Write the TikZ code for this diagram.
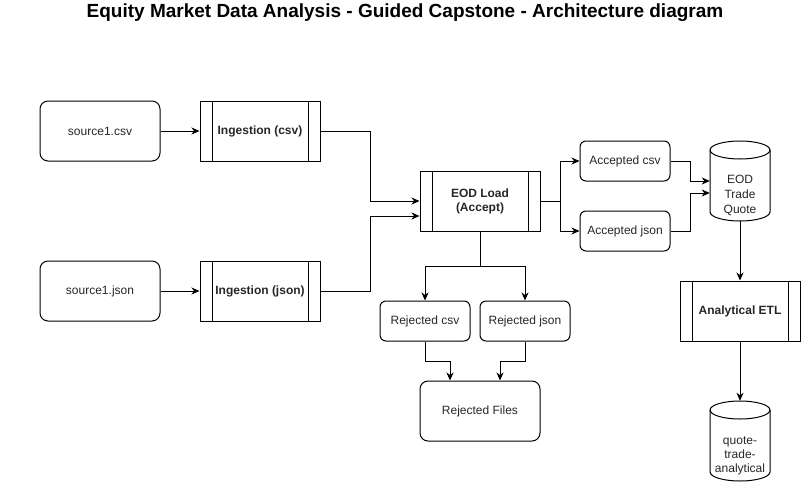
\documentclass[tikz,border=0pt]{standalone}
\usepackage{fontspec}
\setmainfont{Liberation Sans}
\usetikzlibrary{arrows.meta,calc}
\begin{document}
\begin{tikzpicture}[x=1pt,y=-1pt,
  every node/.style={font=\fontsize{12}{14}\selectfont, text=black!85, align=center, inner sep=0pt},
  rbox/.style={draw, line width=1pt, rounded corners=8pt, minimum width=#1, minimum height=60pt},
  sbox/.style={draw, line width=1pt, rounded corners=6pt, minimum width=90pt, minimum height=40pt},
  proc/.style={draw, line width=1pt, minimum width=120pt, minimum height=60pt, font=\fontsize{12}{14}\selectfont\bfseries,
    path picture={\draw[line width=1pt] ([xshift=12pt]path picture bounding box.north west) -- ([xshift=12pt]path picture bounding box.south west);
                  \draw[line width=1pt] ([xshift=-12pt]path picture bounding box.north east) -- ([xshift=-12pt]path picture bounding box.south east);}},
  cylspace/.style={minimum width=60pt, minimum height=80pt},
  arr/.style={line width=1pt, -{Stealth[length=8pt,width=7pt,inset=2.5pt]}},
  ln/.style={line width=1pt}
]
\useasboundingbox (0,0) rectangle (811,482);

\node[font=\fontsize{19}{22}\selectfont\bfseries, text=black] (title) at (405,13) {Equity Market Data Analysis - Guided Capstone - Architecture diagram};

\node[rbox=120pt] (s1) at (100,131) {source1.csv};
\node[rbox=120pt] (s2) at (100,291) {source1.json};
\node[proc] (ic) at (260,131) {Ingestion (csv)};
\node[proc] (ij) at (260,291) {Ingestion (json)};
\node[proc] (eodl) at (480,201) {EOD Load\\(Accept)};
\node[sbox] (acsv) at (625,161) {Accepted csv};
\node[sbox] (ajson) at (625,231) {Accepted json};
\node[sbox] (rcsv) at (425,321) {Rejected csv};
\node[sbox] (rjson) at (525,321) {Rejected json};
\node[rbox=120pt] (rf) at (480,411) {Rejected Files};
\node[proc] (etl) at (740,311) {Analytical ETL};

% cylinders
\node[cylspace] (eod) at (740,181) {};
\draw[line width=1pt] (710,150) -- (710,212) arc[start angle=180,end angle=0,x radius=30,y radius=9] -- (770,150)
  arc[start angle=0,end angle=-180,x radius=30,y radius=9] -- cycle;
\draw[line width=1pt] (710,150) arc[start angle=180,end angle=0,x radius=30,y radius=9];
\node[font=\fontsize{12}{15}\selectfont] (eodt) at (740,195) {EOD\\Trade\\Quote};

\node[cylspace] (qta) at (740,441) {};
\draw[line width=1pt] (710,410) -- (710,472) arc[start angle=180,end angle=0,x radius=30,y radius=9] -- (770,410)
  arc[start angle=0,end angle=-180,x radius=30,y radius=9] -- cycle;
\draw[line width=1pt] (710,410) arc[start angle=180,end angle=0,x radius=30,y radius=9];
\node[font=\fontsize{12}{14}\selectfont] (qtat) at (740,456) {quote-\\trade-\\analytical};

% connectors
\draw[arr] (s1) -- (ic);
\draw[arr] (s2) -- (ij);
\draw[arr] (ic.east) -- ++(50,0) |- (eodl.west);
\draw[arr] (ij.east) -- ++(50,0) |- ([yshift=-15pt]eodl.west);
\draw[arr] (eodl.east) -- ++(20,0) |- (acsv.west);
\draw[arr] (eodl.east) -- ++(20,0) |- (ajson.west);
\draw[arr] (acsv.east) -- ++(20,0) |- (eod.west);
\draw[arr] (ajson.east) -- ++(20,0) |- ([yshift=-12pt]eod.west);
\draw[arr] (eodl.south) -- ++(0,35) -| (rcsv.north);
\draw[arr] (eodl.south) -- ++(0,35) -| (rjson.north);
\draw[arr] (rcsv.south) -- ++(0,20) -| ([xshift=-30pt]rf.north);
\draw[arr] (rjson.south) -- ++(0,20) -| ([xshift=20pt]rf.north);
\draw[arr] (eod.south) -- (etl.north);
\draw[arr] (etl.south) -- (qta.north);
\end{tikzpicture}
\end{document}
